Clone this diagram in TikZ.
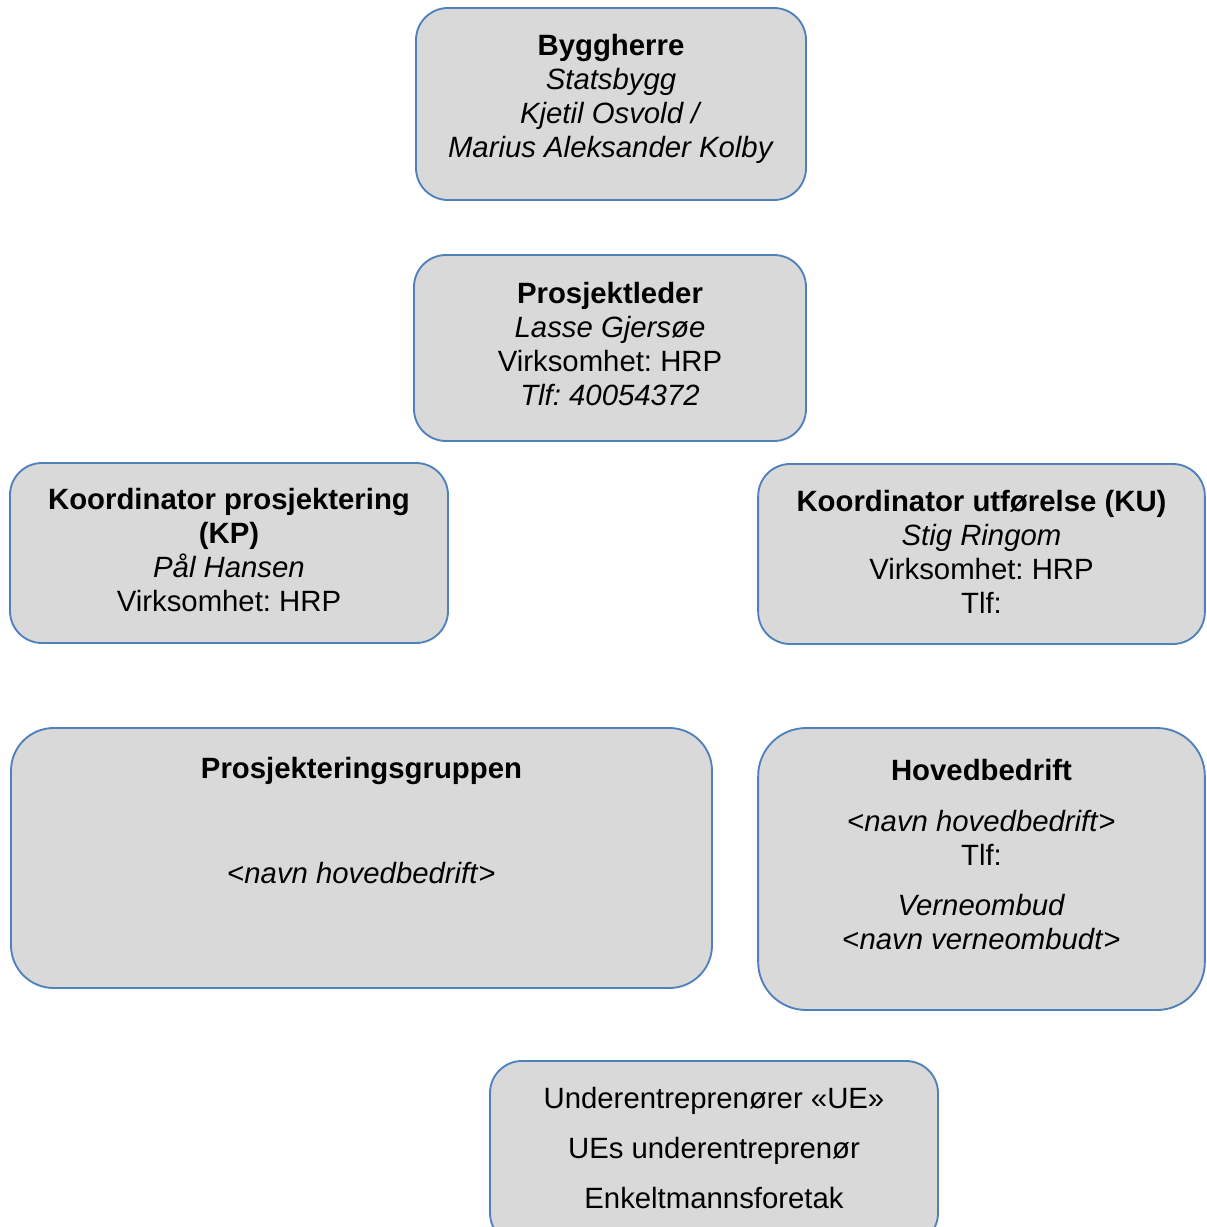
\documentclass[tikz,border=0pt]{standalone}
\usepackage{fontspec}
\setmainfont{Liberation Sans}
\usetikzlibrary{positioning}
\definecolor{boxblue}{HTML}{4F81BD}
\definecolor{boxgray}{HTML}{D9D9D9}
\frenchspacing

\begin{document}
\begin{tikzpicture}[x=0.75pt,y=-0.75pt]
\tikzstyle{box}=[draw=boxblue,fill=boxgray,line width=1.4pt,
rounded corners=24pt,inner sep=0pt]
\tikzstyle{txt}=[align=center,inner sep=0pt,
font=\fontsize{22}{25.5}\selectfont]
\useasboundingbox (0,0) rectangle (1206,1227);

% boxes
\node[box,minimum width=292.5pt,minimum height=144pt] at (611,104) (byg) {};
\node[box,minimum width=294pt,minimum height=139.5pt] at (610,348) (pl) {};
\node[box,minimum width=328.5pt,minimum height=135pt] at (229,553) (kp) {};
\node[box,minimum width=335pt,minimum height=135pt] at (981.5,554) (ku) {};
\node[box,rounded corners=32pt,minimum width=525.75pt,minimum height=195pt] at (361.5,858) (pg) {};
\node[box,rounded corners=36pt,minimum width=335pt,minimum height=211.5pt] at (981.5,869) (hb) {};
\node[box,minimum width=336pt,minimum height=138pt] at (714,1153) (ue) {};

% texts
\node[txt,yshift=4pt] at (byg) (bygtxt) {\textbf{Byggherre}\\ \textit{Statsbygg}\\
\textit{Kjetil Osvold /}\\ \textit{Marius Aleksander Kolby}};
\node[txt,yshift=3pt] at (pl) (pltxt) {\textbf{Prosjektleder}\\ \textit{Lasse Gjersøe}\\
Virksomhet: HRP\\ \textit{Tlf: 40054372}};
\node[txt,yshift=2pt] at (kp) (kptxt) {\textbf{Koordinator prosjektering}\\ \textbf{(KP)}\\
\textit{Pål Hansen}\\ Virksomhet: HRP};
\node[txt,yshift=1.5pt] at (ku) (kutxt) {\textbf{Koordinator utførelse (KU)}\\ \textit{Stig Ringom}\\
Virksomhet: HRP\\ Tlf:};
\node[txt,yshift=28pt] at (pg) (pgtxt) {\textbf{Prosjekteringsgruppen}\\[53pt]
<\textit{navn hovedbedrift}>};
\node[txt,yshift=11pt] at (hb) (hbtxt) {\textbf{Hovedbedrift}\\[12.75pt]
<\textit{navn hovedbedrift}>\\ Tlf:\\[12pt] \textit{Verneombud}\\
<\textit{navn verneombudt}>};
\node[txt,yshift=3.75pt] at (ue) (uetxt) {Underentreprenører «UE»\\[12pt]
UEs underentreprenør\\[12pt] Enkeltmannsforetak};

\end{tikzpicture}
\end{document}
